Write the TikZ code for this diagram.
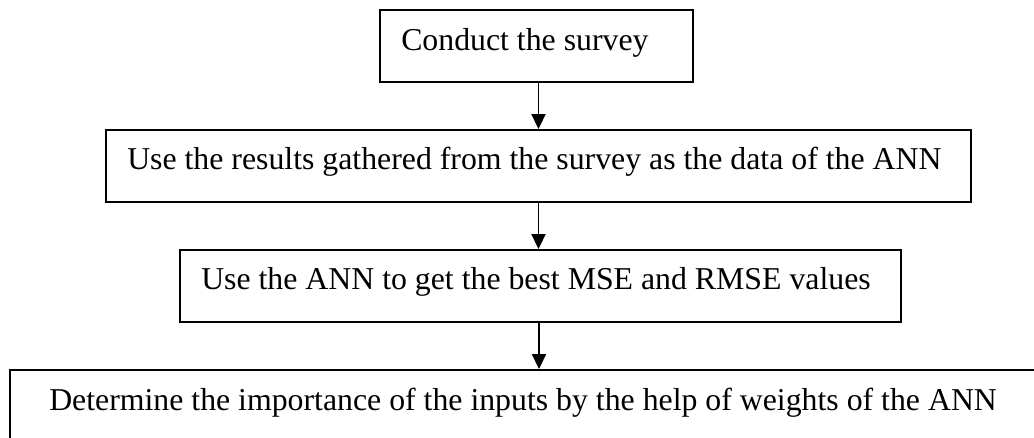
\documentclass[tikz,border=0pt]{standalone}
\usepackage{fontspec}
\setmainfont{Liberation Serif}
\usetikzlibrary{arrows.meta,calc}

\tikzset{
  stepbox/.style={draw=black, line width=1.9pt, fill=white, inner sep=0pt,
                  minimum height=72pt},
  steptext/.style={inner sep=0pt, anchor=base west,
                   font=\fontsize{31.8}{38}\selectfont},
  flow/.style={line width=1.9pt, -{Triangle[length=15pt,width=14pt]}}
}

\begin{document}
\begin{tikzpicture}[x=1pt, y=-1pt]
  \path[use as bounding box, clip] (0,0) rectangle (1034,437);
  \fill[white] (0,0) rectangle (1034,437);

  % process boxes
  \node[stepbox, minimum width=313pt]  (b1) at (536.5,46)  {};
  \node[stepbox, minimum width=865pt]  (b2) at (538.5,166) {};
  \node[stepbox, minimum width=721pt]  (b3) at (540.5,286) {};
  \node[stepbox, minimum width=1058pt] (b4) at (539,406)   {};

  % box captions
  \node[steptext] (t1) at ($(b1.north west)+(22,41.5)$) {Conduct the survey};
  \node[steptext] (t2) at ($(b2.north west)+(22,40)$)
    {Use the results gathered from the survey as the data of the ANN};
  \node[steptext] (t3) at ($(b3.north west)+(22,40)$)
    {Use the ANN to get the best MSE and RMSE values};
  \node[steptext] (t4) at ($(b4.north west)+(40,41.5)$)
    {Determine the importance of the inputs by the help of weights of the ANN};

  % flow arrows
  \draw[flow] (b1.south -| b2.north) -- (b2.north);
  \draw[flow] (b2.south) -- (b3.north -| b2.south);
  \draw[flow] (b3.south -| b4.north) -- (b4.north);
\end{tikzpicture}
\end{document}
